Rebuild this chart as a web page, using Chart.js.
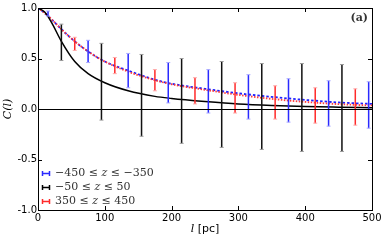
<!DOCTYPE html>
<html lang="en">
<head>
    <meta charset="UTF-8">
    <title>C(l) correlation</title>
    <script src="https://cdn.jsdelivr.net/npm/chart.js"></script>
    <style>
        html, body { margin: 0; padding: 0; background: #fff; }
        #wrap { position: relative; width: 390px; height: 241px; }
    </style>
</head>
<body>
    <div id="wrap"><canvas id="corrChart" width="390" height="241"></canvas></div>

    <script>
        // error bar positions (l) and upper / lower ends
        const lBlue = [15, 75, 135, 195, 255, 315, 375, 435, 495];
        const blueHi = [0.97, 0.68, 0.55, 0.46, 0.39, 0.34, 0.30, 0.28, 0.27];
        const blueLo = [0.92, 0.46, 0.21, 0.06, -0.04, -0.10, -0.13, -0.17, -0.19];

        const lRed = [55, 115, 175, 235, 295, 355, 415, 475];
        const redHi = [0.71, 0.51, 0.39, 0.31, 0.26, 0.23, 0.21, 0.20];
        const redLo = [0.58, 0.35, 0.18, 0.05, -0.04, -0.10, -0.14, -0.16];

        const lBlack = [35, 95, 155, 215, 275, 335, 395, 455];
        const blackHi = [0.84, 0.65, 0.54, 0.50, 0.47, 0.45, 0.45, 0.44];
        const blackLo = [0.48, -0.11, -0.27, -0.34, -0.38, -0.40, -0.42, -0.42];

        // fitted curves
        const lCurve = [0, 10, 20, 35, 55, 75, 100, 135, 175, 200, 250, 300, 350, 400, 450, 500];
        const blueCurve = [1.0, 0.95, 0.89, 0.79, 0.67, 0.57, 0.47, 0.38, 0.29, 0.25, 0.20, 0.155, 0.12, 0.09, 0.065, 0.05];
        const redCurve = [1.0, 0.95, 0.89, 0.79, 0.67, 0.57, 0.47, 0.37, 0.285, 0.245, 0.19, 0.14, 0.10, 0.07, 0.048, 0.035];
        const blackCurve = [1.0, 0.96, 0.86, 0.67, 0.47, 0.35, 0.26, 0.18, 0.125, 0.105, 0.075, 0.05, 0.035, 0.025, 0.018, 0.012];

        const xTicks = [0, 100, 200, 300, 400, 500];
        const yTicks = [-1.0, -0.5, 0.0, 0.5, 1.0];

        const legendRows = [
            { color: '#2a2aff', text: ['−450 ≤ ', 'z', ' ≤ −350'] },
            { color: '#000000', text: ['−50 ≤ ', 'z', ' ≤ 50'] },
            { color: '#ff2a2a', text: ['350 ≤ ', 'z', ' ≤ 450'] }
        ];

        function errorBars(ls, hi, lo) {
            const pts = [];
            ls.forEach((l, i) => {
                pts.push({ x: l, y: hi[i] }, { x: l, y: lo[i] }, { x: l, y: null });
            });
            return pts;
        }

        function curve(ys) {
            return lCurve.map((l, i) => ({ x: l, y: ys[i] }));
        }

        function barSet(data, color, capColor) {
            return {
                data: data,
                borderColor: color,
                borderWidth: 1.5,
                spanGaps: false,
                pointStyle: 'line',
                pointRadius: 2,
                pointBorderWidth: 1,
                pointBorderColor: capColor,
                pointBackgroundColor: capColor
            };
        }

        function curveSet(data, color, width, dash) {
            return {
                data: data,
                borderColor: color,
                borderWidth: width,
                borderDash: dash,
                pointRadius: 0,
                cubicInterpolationMode: 'monotone'
            };
        }

        // frame, inward ticks, zero line, legend and texts
        const decorations = {
            id: 'decorations',
            afterDatasetsDraw(chart) {
                const ctx = chart.ctx;
                const a = chart.chartArea;
                const xs = chart.scales.x, ys = chart.scales.y;
                ctx.save();
                ctx.strokeStyle = '#000';
                ctx.lineWidth = 1;
                // zero line
                const y0 = Math.round(ys.getPixelForValue(0)) + 0.5;
                ctx.beginPath();
                ctx.moveTo(a.left, y0);
                ctx.lineTo(a.right, y0);
                ctx.stroke();
                // frame
                ctx.strokeRect(Math.round(a.left) + 0.5, Math.round(a.top) + 0.5,
                    Math.round(a.right - a.left), Math.round(a.bottom - a.top));
                // ticks
                ctx.beginPath();
                xTicks.forEach(v => {
                    const px = Math.round(xs.getPixelForValue(v)) + 0.5;
                    ctx.moveTo(px, a.bottom); ctx.lineTo(px, a.bottom - 4);
                    ctx.moveTo(px, a.top); ctx.lineTo(px, a.top + 4);
                });
                yTicks.forEach(v => {
                    const py = Math.round(ys.getPixelForValue(v)) + 0.5;
                    ctx.moveTo(a.left, py); ctx.lineTo(a.left + 4, py);
                    ctx.moveTo(a.right, py); ctx.lineTo(a.right - 4, py);
                });
                ctx.stroke();

                // legend
                ctx.textBaseline = 'middle';
                legendRows.forEach((row, i) => {
                    const cy = 173 + i * 14;
                    ctx.strokeStyle = row.color;
                    ctx.lineWidth = 1.5;
                    ctx.beginPath();
                    ctx.moveTo(42, cy + 0.5); ctx.lineTo(50, cy + 0.5);
                    ctx.moveTo(42.5, cy - 2); ctx.lineTo(42.5, cy + 3);
                    ctx.moveTo(49.5, cy - 2); ctx.lineTo(49.5, cy + 3);
                    ctx.stroke();
                    let x = 55;
                    ctx.fillStyle = '#333';
                    row.text.forEach((t, k) => {
                        ctx.font = (k === 1 ? 'italic ' : '') + '11px "DejaVu Serif"';
                        ctx.fillText(t, x, cy);
                        x += ctx.measureText(t).width;
                    });
                });

                // panel label
                ctx.fillStyle = '#333';
                ctx.font = 'bold 11px "DejaVu Serif"';
                ctx.textAlign = 'right';
                ctx.fillText('(a)', 368, 18);

                // x title
                ctx.textAlign = 'left';
                ctx.fillStyle = '#000';
                ctx.font = 'italic 11px "DejaVu Serif"';
                const lw = ctx.measureText('l').width;
                ctx.font = '11px "DejaVu Sans"';
                const pw = ctx.measureText(' [pc]').width;
                const sx = (a.left + a.right) / 2 - (lw + pw) / 2;
                ctx.font = 'italic 11px "DejaVu Serif"';
                ctx.fillText('l', sx, 229);
                ctx.font = '11px "DejaVu Sans"';
                ctx.fillText(' [pc]', sx + lw, 229);

                // y title
                ctx.translate(8, (a.top + a.bottom) / 2);
                ctx.rotate(-Math.PI / 2);
                ctx.textAlign = 'center';
                ctx.font = 'italic 11px "DejaVu Serif"';
                ctx.fillText('C(l)', 0, 0);
                ctx.restore();
            }
        };

        new Chart(document.getElementById('corrChart').getContext('2d'), {
            type: 'line',
            data: {
                datasets: [
                    barSet(errorBars(lBlack, blackHi, blackLo), '#111111', '#999999'),
                    barSet(errorBars(lRed, redHi, redLo), '#ff2a2a', '#ffaaaa'),
                    barSet(errorBars(lBlue, blueHi, blueLo), '#2a2aff', '#aaaaff'),
                    curveSet(curve(blackCurve), '#000000', 1.5, []),
                    curveSet(curve(redCurve), '#ff3a3a', 1.8, [1.5, 1.5]),
                    curveSet(curve(blueCurve), '#2020ff', 1.8, [2.5, 2])
                ]
            },
            options: {
                responsive: false,
                animation: false,
                events: [],
                layout: { padding: { top: 8, right: 18, left: 0, bottom: 0 } },
                plugins: { legend: { display: false }, tooltip: { enabled: false } },
                scales: {
                    x: {
                        type: 'linear',
                        min: 0,
                        max: 500,
                        afterFit: s => { s.height = 31; },
                        afterBuildTicks: s => { s.ticks = xTicks.map(v => ({ value: v })); },
                        grid: { display: false, drawTicks: false },
                        border: { display: false },
                        ticks: {
                            padding: 2,
                            color: '#000',
                            maxRotation: 0,
                            font: { family: 'DejaVu Sans', size: 10 },
                            callback: v => String(v)
                        }
                    },
                    y: {
                        min: -1,
                        max: 1,
                        afterFit: s => { s.width = 38; },
                        afterBuildTicks: s => { s.ticks = yTicks.map(v => ({ value: v })); },
                        grid: { display: false, drawTicks: false },
                        border: { display: false },
                        ticks: {
                            padding: 1,
                            color: '#000',
                            font: { family: 'DejaVu Sans', size: 10 },
                            callback: v => v.toFixed(1)
                        }
                    }
                }
            },
            plugins: [decorations]
        });
    </script>
</body>
</html>
